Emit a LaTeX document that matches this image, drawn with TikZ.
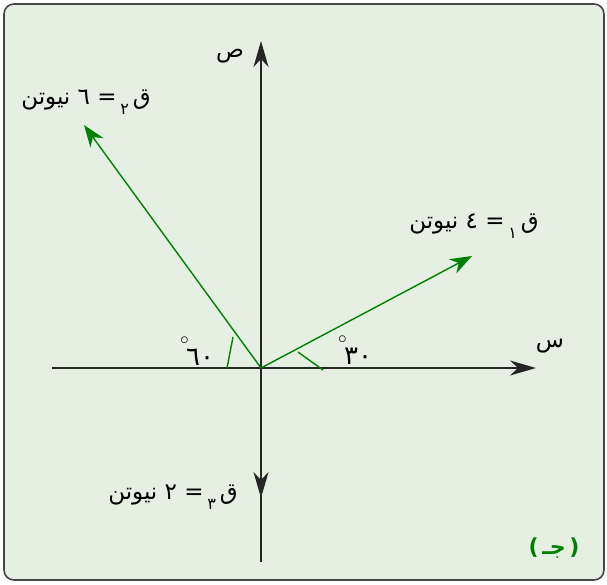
\documentclass[tikz,border=0pt]{standalone}
\usepackage{fontspec}
\usetikzlibrary{arrows.meta}
\TeXXeTstate=1
\newfontfamily\arabicfont[Script=Arabic]{DejaVu Sans}
\newfontfamily\plainsans{DejaVu Sans}
\definecolor{bgreen}{RGB}{229,240,226}
\definecolor{vgreen}{RGB}{0,128,0}
\definecolor{frameg}{RGB}{70,70,70}
\tikzset{
  axisline/.style={line width=1.5pt, black!85},
  axisarrow/.style={line width=1.5pt, black!85, -{Stealth[length=26pt,width=15pt,inset=8pt]}},
  force/.style={line width=1.4pt, vgreen, -{Stealth[length=22pt,width=16pt,inset=7pt]}},
  marker/.style={line width=1.4pt, vgreen},
  lbl/.style={font=\arabicfont\fontsize{23}{26}\selectfont, inner sep=0pt},
  anglbl/.style={font=\arabicfont\fontsize{26}{28}\selectfont, inner sep=0pt},
}
\newcommand{\subnum}[1]{\raisebox{-0.45em}{\fontsize{16}{16}\selectfont #1}}
\newcommand{\degmark}{\rlap{\raisebox{0.8em}{\kern-6pt\fontsize{16}{16}\selectfont$\circ$}}}
\begin{document}
\begin{tikzpicture}[x=1pt,y=-1pt]
\useasboundingbox (0,0) rectangle (607,584);
\draw[frameg, line width=1.6pt, fill=bgreen, rounded corners=10pt] (4,4) rectangle (604,580);
% key points
\coordinate (O) at (261,368);
\coordinate (xl) at (52,368);
\coordinate (xr) at (536,368);
\coordinate (yt) at (261,41);
\coordinate (yb) at (261,562);
\coordinate (F3) at (261,498);
\coordinate (F1) at (472,256);
\coordinate (F2) at (84,125);
\coordinate (m1a) at (298,352);
\coordinate (m1b) at (323,370);
\coordinate (m2a) at (233,337);
\coordinate (m2b) at (227,368);
% axes
\draw[axisarrow] (xl) -- (xr);
\draw[axisline] (O) -- (yb);
\draw[axisarrow] (O) -- (yt);
\draw[axisarrow] (O) -- (F3);
% forces
\draw[force] (O) -- (F1);
\draw[force] (O) -- (F2);
% angle markers
\draw[marker] (m1a) -- (m1b);
\draw[marker] (m2a) -- (m2b);
% labels
\node[lbl] (ys) at (230,56) {ص};
\node[lbl] (xs) at (550,346) {س};
\node[lbl] (l2) at (86,102) {\beginR ق\,\subnum{٢}\,= ٦ نيوتن\endR};
\node[lbl] (l1) at (474,226) {\beginR ق\,\subnum{١}\,= ٤ نيوتن\endR};
\node[lbl] (l3) at (173,497) {\beginR ق\,\subnum{٣}\,= ٢ نيوتن\endR};
\node[anglbl] (a30) at (358,350) {\degmark ٣٠};
\node[anglbl] (a60) at (200,351) {\degmark ٦٠};
\node[lbl, text=vgreen, font=\arabicfont\bfseries\fontsize{22}{24}\selectfont] (tag) at (554,548) {{\plainsans\bfseries(}\,\beginR جـ\endR\,{\plainsans\bfseries)}};
\end{tikzpicture}
\end{document}
